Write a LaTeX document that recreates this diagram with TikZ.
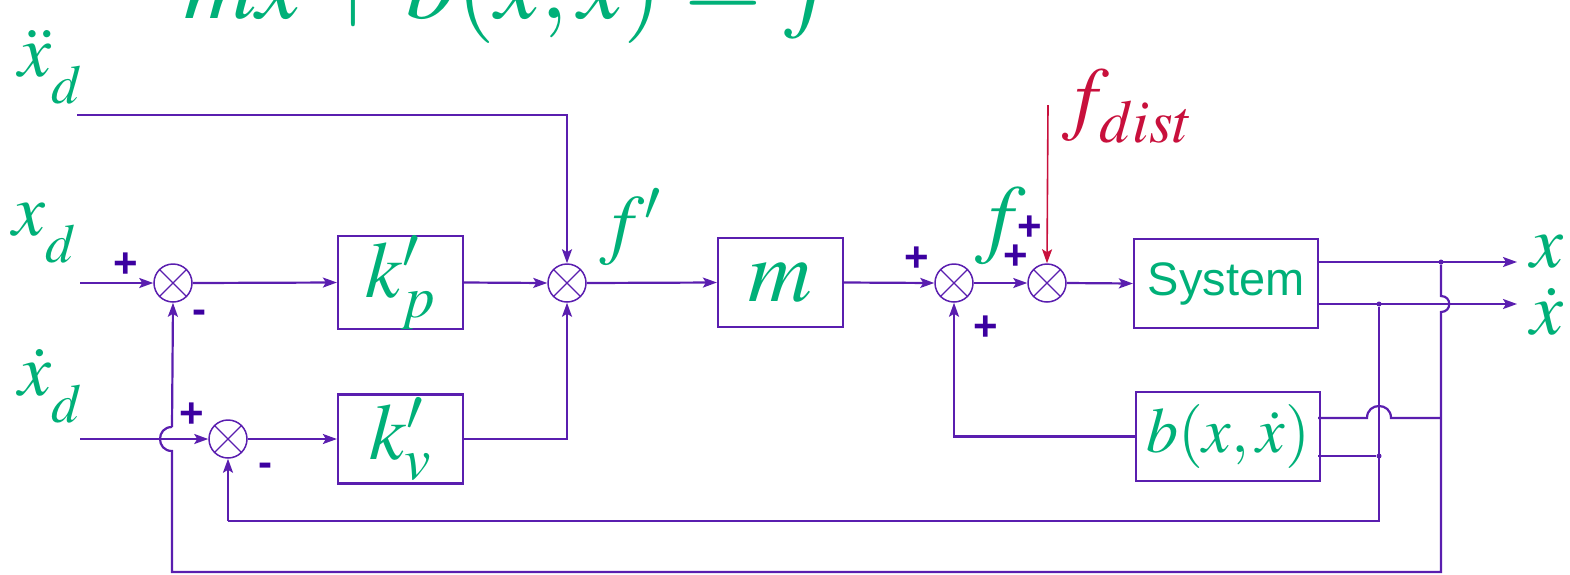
\documentclass[tikz,border=0pt]{standalone}
\usepackage{mathptmx}
\usepackage[no-math]{fontspec}
\newfontfamily\arialf{Liberation Sans}
\usetikzlibrary{arrows.meta}
\definecolor{lc}{RGB}{90,30,175}
\definecolor{tg}{RGB}{0,176,120}
\definecolor{cr}{RGB}{200,16,60}
\definecolor{sg}{RGB}{60,0,160}
\newcommand\dsub{_{\lower 16pt\hbox{$\scriptstyle d$}}}
\tikzset{
  wire/.style={draw=lc, line width=2.2pt},
  arr/.style={wire, -{Stealth[length=14pt,width=10pt,inset=3pt]}},
  blk/.style={draw=lc, line width=2.2pt, minimum width=125pt, minimum height=89pt,
    inner sep=0pt, text=tg, font=\fontsize{80}{90}\selectfont},
  sumnode/.style={circle, draw=lc, line width=1.5pt, minimum size=38pt, inner sep=0pt,
    path picture={\draw[lc, line width=1.3pt]
      (path picture bounding box.north west) -- (path picture bounding box.south east)
      (path picture bounding box.north east) -- (path picture bounding box.south west);}},
  sgn/.style={text=sg, inner sep=0pt, font=\arialf\bfseries\fontsize{42}{42}\selectfont},
  lbl/.style={text=tg, inner sep=0pt, font=\fontsize{74}{80}\selectfont},
  dot/.style={circle, fill=lc, inner sep=0pt, minimum size=5pt}
}
\begin{document}
\begin{tikzpicture}[x=1pt,y=-1pt]
\useasboundingbox (0,0) rectangle (1570,574);
% equation (cut at top)
\node[lbl, anchor=base west, font=\fontsize{100}{110}\selectfont] (eq) at (184,18) {$m\ddot{x}+b(x,\dot{x})=f$};
% input labels
\node[lbl, anchor=base west] (lxdd) at (18,76) {$\ddot{x}\dsub$};
\node[lbl, anchor=base west] (lxd) at (12,235) {$x\dsub$};
\node[lbl, anchor=base west] (lxdot) at (18,395) {$\dot{x}\dsub$};
% blocks
\node[blk] (kp) at (400.5,282.5) {$k'_p$};
\node[blk] (kv) at (400.5,439) {$k'_v$};
\node[blk, font=\fontsize{88}{90}\selectfont] (m) at (780.5,282.5) {$m$};
\node[blk, minimum width=184pt, font=\arialf\fontsize{47}{50}\selectfont] (sys) at (1226,283.5) {System};
\node[blk, minimum width=184pt, font=\fontsize{64}{70}\selectfont] (b) at (1228,436.5) {$b(x,\dot{x})$};
% summers
\node[sumnode] (s1) at (173,283) {};
\node[sumnode] (s2) at (567,283) {};
\node[sumnode] (s3) at (954,283) {};
\node[sumnode] (s4) at (1047,283) {};
\node[sumnode] (s5) at (228,439) {};
% signal labels
\node[lbl, anchor=base west, font=\fontsize{78}{80}\selectfont] (lfp) at (600,249) {$f'$};
\node[lbl, anchor=base west, font=\fontsize{88}{90}\selectfont] (lf) at (975,246) {$f$};
\node[lbl, anchor=base west, text=cr, font=\fontsize{82}{90}\selectfont] (lfd) at (1062,124) {$f\sb{\lower 6pt\hbox{$\scriptstyle dist$}}$};
\node[lbl, anchor=base west] (lx) at (1530,267) {$x$};
\node[lbl, anchor=base west] (lxo) at (1530,334) {$\dot{x}$};
% signs
\node[sgn] (p1) at (126,265) {+};
\node[sgn] (n1) at (199,317) {-};
\node[sgn] (p5) at (192,415) {+};
\node[sgn] (n5) at (265,470) {-};
\node[sgn] (p3a) at (917,259) {+};
\node[sgn] (p3b) at (986,328) {+};
\node[sgn] (p4a) at (1016,257) {+};
\node[sgn] (p4b) at (1030,228) {+};
% coordinates
\coordinate (xdin) at (80,283);
\coordinate (xdotin) at (80,439);
\coordinate (xddin) at (77,115);
\coordinate (fdin) at (1048,105);
\coordinate (xout) at (1517,262);
\coordinate (xdout) at (1517,304);
\coordinate (sysx) at (1318,262);
\coordinate (sysxd) at (1318,304);
\node[dot] (j1) at (1441,262) {};
\node[dot] (j2) at (1379,304) {};
\node[dot] (j3) at (1379,456) {};
\coordinate (bin1) at (1318,418);
\coordinate (bin2) at (1318,456);
% forward path
\draw[arr] (xdin) -- (s1.west);
\draw[arr] (s1.east) -- (kp.west);
\draw[arr] (kp.east) -- (s2.west);
\draw[arr] (xddin) -| (s2.north);
\draw[arr] (s2.east) -- (m.west);
\draw[arr] (m.east) -- (s3.west);
\draw[arr] (s3.east) -- (s4.west);
\draw[arr] (s4.east) -- (sys.west);
\draw[draw=cr, line width=1.6pt, -{Stealth[length=14pt,width=10pt,inset=3pt]}] (fdin) -- (s4.north);
\draw[arr] (xdotin) -- (s5.west);
\draw[arr] (s5.east) -- (kv.west);
\draw[arr] (kv.east) -| (s2.south);
% outputs
\draw[arr] (sysx) -- (xout);
\draw[arr] (sysxd) -- (xdout);
% b feedback
\draw[arr] (b.west) -| (s3.south);
% x feedback with hops
\draw[wire] (j1) -- (1441,296) .. controls (1452,296) and (1452,312) .. (1441,312)
  -- (1441,572) -- (172,572) -- (172,451) .. controls (156,451) and (156,427) .. (172,427);
\draw[arr] (172,427) -- (s1.south);
% xdot feedback
\draw[wire] (j2) -- (1379,521) -- (228,521);
\draw[arr] (228,521) -- (s5.south);
% b inputs
\draw[wire] (bin1) -- (1367,418) .. controls (1367,402) and (1391,402) .. (1391,418) -- (1441,418);
\draw[wire] (bin2) -- (j3);
\end{tikzpicture}
\end{document}
